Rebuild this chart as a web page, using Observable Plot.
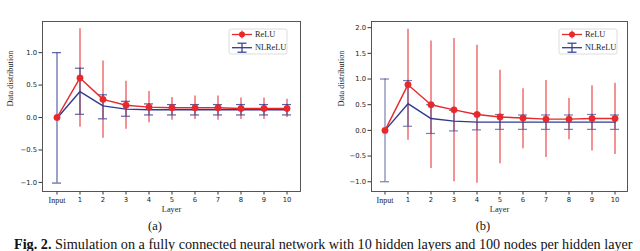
<!DOCTYPE html>
<html><head><meta charset="utf-8">
<script src="https://cdn.jsdelivr.net/npm/d3@7"></script>
<script src="https://cdn.jsdelivr.net/npm/@observablehq/plot@0.6"></script>
<style>
body{margin:0;background:#fff;}
#root{position:relative;width:640px;height:251px;overflow:hidden;background:#fff;}
.panel{position:absolute;top:0;}
.sub{position:absolute;top:220px;font-family:"Liberation Serif",serif;font-size:12.5px;line-height:13px;color:#111;transform:translateX(-50%);}
#cap{position:absolute;left:14px;top:237px;font-family:"Liberation Serif",serif;font-size:14.2px;line-height:14px;white-space:nowrap;color:#111;}
</style></head><body><div id="root"></div>
<script>
const layers = ["Input","1","2","3","4","5","6","7","8","9","10"];
const seriesNames = ["ReLU","NLReLU"];
const panelLabels = ["(a)","(b)"];
const captionBold = "Fig. 2.";
const captionText = " Simulation on a fully connected neural network with 10 hidden layers and 100 nodes per hidden layer";
const yLabel = "Data distribution";
const xLabel = "Layer";

// Panel (a)
const aReluMean = [0, 0.61, 0.28, 0.19, 0.16, 0.15, 0.15, 0.15, 0.14, 0.14, 0.14];
const aReluLo   = [null, -0.15, -0.32, -0.18, -0.08, -0.04, -0.03, -0.04, -0.03, -0.03, 0.00];
const aReluHi   = [null, 1.37, 0.87, 0.56, 0.40, 0.31, 0.33, 0.33, 0.30, 0.30, 0.28];
const aNlMean   = [-0.01, 0.40, 0.18, 0.13, 0.12, 0.12, 0.12, 0.12, 0.12, 0.12, 0.12];
const aNlLo     = [-1.01, 0.05, -0.02, 0.02, 0.04, 0.04, 0.04, 0.04, 0.04, 0.04, 0.04];
const aNlHi     = [1.00, 0.76, 0.35, 0.25, 0.21, 0.20, 0.20, 0.20, 0.20, 0.20, 0.20];
const aYTicks   = [-1.0, -0.5, 0.0, 0.5, 1.0];

// Panel (b)
const bReluMean = [0, 0.89, 0.50, 0.40, 0.31, 0.26, 0.24, 0.22, 0.22, 0.23, 0.23];
const bReluLo   = [null, -0.19, -0.74, -1.00, -1.03, -0.65, -0.36, -0.53, -0.18, -0.40, -0.47];
const bReluHi   = [null, 1.97, 1.74, 1.79, 1.66, 1.17, 0.81, 0.97, 0.62, 0.87, 0.92];
const bNlMean   = [0, 0.52, 0.23, 0.18, 0.16, 0.16, 0.16, 0.16, 0.16, 0.16, 0.16];
const bNlLo     = [-1.00, 0.08, -0.06, -0.01, 0.01, 0.02, 0.02, 0.02, 0.02, 0.02, 0.02];
const bNlHi     = [1.00, 0.97, 0.50, 0.39, 0.32, 0.31, 0.30, 0.30, 0.30, 0.31, 0.30];
const bYTicks   = [-1.0, -0.5, 0.0, 0.5, 1.0, 1.5, 2.0];

const RED = "#e8292b";
const BLUE = "#2f3b8f";
const SERIF = "Liberation Serif, Times New Roman, serif";

function rows(rm, rl, rh, nm, nl, nh) {
  return layers.map((layer, i) => ({layer, relu: rm[i], reluLo: rl[i], reluHi: rh[i], nl: nm[i], nlLo: nl[i], nlHi: nh[i]}));
}

function panel(data, o) {
  const svg = Plot.plot({
    width: 320, height: 215,
    marginLeft: o.ml, marginRight: o.mr, marginTop: o.mt, marginBottom: 24,
    x: {type: "band", domain: layers, paddingInner: 0.615, paddingOuter: 0.3075, align: 0.5, label: null},
    y: {domain: o.yDomain, label: null},
    style: {fontFamily: "DejaVu Sans, sans-serif", fontSize: "6.8px", color: "#222", background: "white", overflow: "visible"},
    marks: [
      Plot.axisY({ticks: o.yTicks, tickFormat: d3.format(".1f"), tickSize: 3.5, tickPadding: 2, label: null, stroke: "#333"}),
      Plot.axisX({tickSize: 3.5, tickPadding: 2, label: null, stroke: "#333"}),
      Plot.ruleX(data.filter(d => d.reluLo != null), {x: "layer", y1: "reluLo", y2: "reluHi", stroke: RED, strokeWidth: 1.2, strokeOpacity: 0.85}),
      Plot.ruleX(data, {x: "layer", y1: "nlLo", y2: "nlHi", stroke: BLUE, strokeWidth: 1.2, strokeOpacity: o.nlOpacity}),
      Plot.tickY(data, {x: "layer", y: "nlLo", stroke: BLUE, strokeWidth: 1.2, strokeOpacity: o.nlOpacity}),
      Plot.tickY(data, {x: "layer", y: "nlHi", stroke: BLUE, strokeWidth: 1.2, strokeOpacity: o.nlOpacity}),
      Plot.line(data, {x: "layer", y: "nl", stroke: BLUE, strokeWidth: 1.4}),
      Plot.line(data, {x: "layer", y: "relu", stroke: RED, strokeWidth: 1.4}),
      Plot.dot(data, {x: "layer", y: "relu", r: 3.2, fill: RED, stroke: RED, strokeWidth: 0.5}),
      Plot.frame({stroke: "#444", strokeWidth: 0.9}),
      Plot.text([xLabel], {text: d => d, frameAnchor: "bottom", dy: 15, lineAnchor: "top", fontFamily: SERIF, fontSize: 8.3, fill: "#222"}),
      Plot.text([yLabel], {text: d => d, frameAnchor: "left", dx: o.yLabDx, rotate: -90, fontFamily: SERIF, fontSize: 8.3, fill: "#222"})
    ]
  });
  // serif "Input" tick label
  d3.select(svg).selectAll("text").filter(function() { return this.textContent === "Input"; })
    .attr("font-family", SERIF).style("font-family", SERIF).attr("font-size", 8).style("font-size", "8px");
  // legend
  const g = d3.select(svg).append("g");
  const bx = o.legX, by = 29, bw = 58, bh = 25;
  g.append("rect").attr("x", bx).attr("y", by).attr("width", bw).attr("height", bh).attr("rx", 2)
    .attr("fill", "white").attr("fill-opacity", 0.85).attr("stroke", "#d4d4d4").attr("stroke-width", 0.8);
  const y1 = 34.5, y2 = 47.7, lx0 = bx + 3, lx1 = bx + 23, cx = bx + 13;
  g.append("line").attr("x1", lx0).attr("x2", lx1).attr("y1", y1).attr("y2", y1).attr("stroke", RED).attr("stroke-width", 1.3);
  g.append("line").attr("x1", cx).attr("x2", cx).attr("y1", y1 - 4).attr("y2", y1 + 4).attr("stroke", RED).attr("stroke-width", 1.1).attr("stroke-opacity", 0.85);
  g.append("circle").attr("cx", cx).attr("cy", y1).attr("r", 3).attr("fill", RED);
  g.append("line").attr("x1", lx0).attr("x2", lx1).attr("y1", y2).attr("y2", y2).attr("stroke", BLUE).attr("stroke-width", 1.3);
  g.append("line").attr("x1", cx).attr("x2", cx).attr("y1", y2 - 4.5).attr("y2", y2 + 4.5).attr("stroke", BLUE).attr("stroke-width", 1.2);
  g.append("line").attr("x1", cx - 4.5).attr("x2", cx + 4.5).attr("y1", y2 - 4.5).attr("y2", y2 - 4.5).attr("stroke", BLUE).attr("stroke-width", 1.2);
  g.append("line").attr("x1", cx - 4.5).attr("x2", cx + 4.5).attr("y1", y2 + 4.5).attr("y2", y2 + 4.5).attr("stroke", BLUE).attr("stroke-width", 1.2);
  [[seriesNames[0], y1], [seriesNames[1], y2]].forEach(([t, yy]) => {
    g.append("text").attr("x", bx + 26).attr("y", yy).attr("dy", "0.32em").attr("text-anchor", "start")
      .style("font-family", SERIF).style("font-size", "8.3px").attr("fill", "#222").text(t);
  });
  return svg;
}

const root = document.getElementById("root");
const panels = [
  {data: rows(aReluMean, aReluLo, aReluHi, aNlMean, aNlLo, aNlHi), ml: 42, mr: 20, mt: 21, yDomain: [-1.14, 1.48], yTicks: aYTicks, yLabDx: -32, legX: 229, nlOpacity: 0.8, left: 0, subX: 155},
  {data: rows(bReluMean, bReluLo, bReluHi, bNlMean, bNlLo, bNlHi), ml: 51, mr: 13, mt: 21, yDomain: [-1.19, 2.12], yTicks: bYTicks, yLabDx: -30.5, legX: 239, nlOpacity: 0.65, left: 320, subX: 483}
];
panels.forEach((p, i) => {
  const div = document.createElement("div");
  div.className = "panel";
  div.style.left = p.left + "px";
  div.appendChild(panel(p.data, p));
  root.appendChild(div);
  const s = document.createElement("div");
  s.className = "sub";
  s.style.left = p.subX + "px";
  s.textContent = panelLabels[i];
  root.appendChild(s);
});
const cap = document.createElement("div");
cap.id = "cap";
const b = document.createElement("b");
b.textContent = captionBold;
cap.appendChild(b);
cap.appendChild(document.createTextNode(captionText));
root.appendChild(cap);
</script>
</body></html>
